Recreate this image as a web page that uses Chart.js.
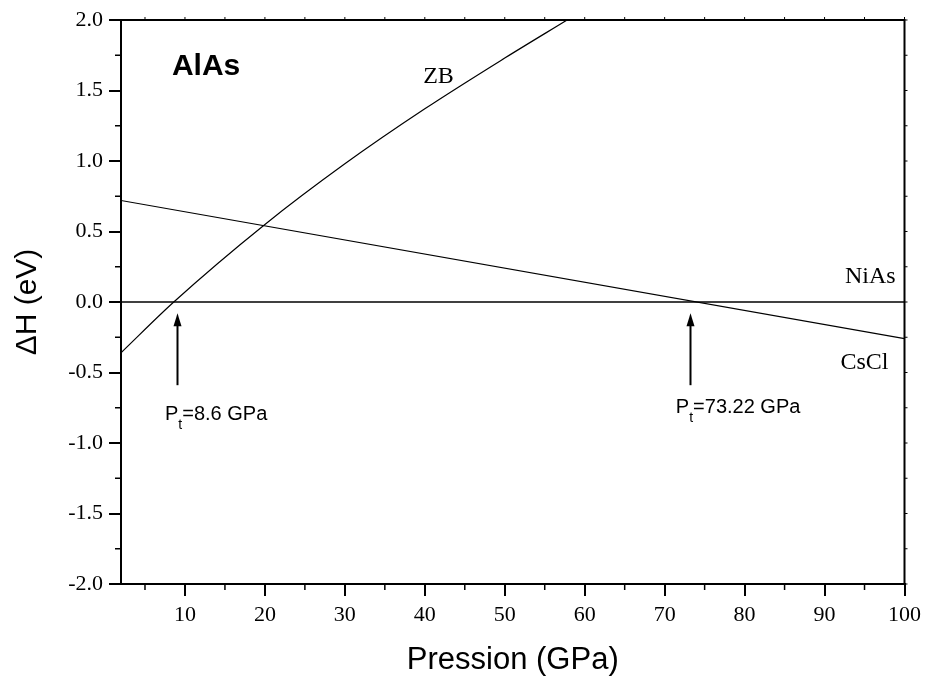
<!DOCTYPE html>
<html>
<head>
<meta charset="utf-8">
<script src="https://cdn.jsdelivr.net/npm/chart.js@4"></script>
<style>
  body { margin: 0; background: #fff; }
</style>
</head>
<body>
<canvas id="enthalpyChart" width="927" height="682"></canvas>
<script>
// data
const pressureZB = [2, 8.6, 20, 30, 40, 50, 57.8];
const deltaZB = [-0.36, 0, 0.55, 0.98, 1.37, 1.73, 2.0];
const pressureCsCl = [2, 100];
const deltaCsCl = [0.72, -0.26];
const pressureNiAs = [2, 100];
const deltaNiAs = [0, 0];

const xTicks = [10, 20, 30, 40, 50, 60, 70, 80, 90, 100];
const yTicks = [-2.0, -1.5, -1.0, -0.5, 0.0, 0.5, 1.0, 1.5, 2.0];
const xMinor = [5, 15, 25, 35, 45, 55, 65, 75, 85, 95];
const yMinor = [-1.75, -1.25, -0.75, -0.25, 0.25, 0.75, 1.25, 1.75];

const arrowX = [9.0, 73.2];
const arrowFrom = -0.59;
const arrowTo = -0.08;

function toPoints(xs, ys) {
    return xs.map((x, i) => ({ x: x, y: ys[i] }));
}

const decorations = {
    id: "decorations",
    afterDraw(chart) {
        const ctx = chart.ctx;
        const xs = chart.scales.x;
        const ys = chart.scales.y;
        const area = chart.chartArea;
        ctx.save();
        ctx.strokeStyle = "#000";
        ctx.fillStyle = "#000";

        // top and right frame
        ctx.lineWidth = 2;
        ctx.beginPath();
        ctx.moveTo(area.left, area.top);
        ctx.lineTo(area.right, area.top);
        ctx.lineTo(area.right, area.bottom);
        ctx.stroke();

        // minor ticks (outward)
        ctx.lineWidth = 1.5;
        ctx.beginPath();
        xMinor.forEach(v => {
            const px = xs.getPixelForValue(v);
            ctx.moveTo(px, area.bottom);
            ctx.lineTo(px, area.bottom + 6);
        });
        yMinor.forEach(v => {
            const py = ys.getPixelForValue(v);
            ctx.moveTo(area.left, py);
            ctx.lineTo(area.left - 6, py);
        });
        ctx.stroke();

        // small ticks on top and right edges
        ctx.lineWidth = 1;
        ctx.beginPath();
        xMinor.concat(xTicks).forEach(v => {
            const px = xs.getPixelForValue(v);
            ctx.moveTo(px, area.top);
            ctx.lineTo(px, area.top - 3);
        });
        yMinor.concat(yTicks).forEach(v => {
            const py = ys.getPixelForValue(v);
            ctx.moveTo(area.right, py);
            ctx.lineTo(area.right + 3, py);
        });
        ctx.stroke();

        // arrows
        arrowX.forEach(v => {
            const px = Math.round(xs.getPixelForValue(v)) + 0.5;
            const y0 = ys.getPixelForValue(arrowFrom);
            const y1 = ys.getPixelForValue(arrowTo);
            ctx.lineWidth = 2;
            ctx.beginPath();
            ctx.moveTo(px, y0);
            ctx.lineTo(px, y1 + 8);
            ctx.stroke();
            ctx.beginPath();
            ctx.moveTo(px, y1);
            ctx.lineTo(px - 4, y1 + 13);
            ctx.lineTo(px + 4, y1 + 13);
            ctx.closePath();
            ctx.fill();
        });

        // labels
        ctx.textBaseline = "middle";
        ctx.textAlign = "left";
        ctx.font = "bold 30px 'Liberation Sans', Arial, sans-serif";
        ctx.fillText("AlAs", xs.getPixelForValue(8.37), ys.getPixelForValue(1.67));

        ctx.font = "24px 'Liberation Serif', 'Times New Roman', serif";
        ctx.fillText("ZB", xs.getPixelForValue(39.8), ys.getPixelForValue(1.6));
        ctx.textAlign = "right";
        ctx.fillText("NiAs", xs.getPixelForValue(98.9), ys.getPixelForValue(0.18));
        ctx.fillText("CsCl", xs.getPixelForValue(98.0), ys.getPixelForValue(-0.43));

        ctx.textAlign = "left";
        function ptLabel(text, xv, yv) {
            let px = xs.getPixelForValue(xv);
            const py = ys.getPixelForValue(yv);
            ctx.font = "20px 'Liberation Sans', Arial, sans-serif";
            ctx.fillText("P", px, py);
            px += ctx.measureText("P").width;
            ctx.font = "14px 'Liberation Sans', Arial, sans-serif";
            ctx.fillText("t", px, py + 10);
            px += ctx.measureText("t").width;
            ctx.font = "20px 'Liberation Sans', Arial, sans-serif";
            ctx.fillText(text, px, py);
        }
        ptLabel("=8.6 GPa", 7.5, -0.80);
        ptLabel("=73.22 GPa", 71.4, -0.75);

        ctx.restore();
    }
};

const ctx = document.getElementById("enthalpyChart").getContext("2d");
new Chart(ctx, {
    type: "line",
    data: {
        datasets: [
            { label: "ZB", data: toPoints(pressureZB, deltaZB), borderColor: "#000", borderWidth: 1.2,
              pointRadius: 0, fill: false, cubicInterpolationMode: "monotone" },
            { label: "CsCl", data: toPoints(pressureCsCl, deltaCsCl), borderColor: "#000", borderWidth: 1.2,
              pointRadius: 0, fill: false },
            { label: "NiAs", data: toPoints(pressureNiAs, deltaNiAs), borderColor: "#000", borderWidth: 1.5,
              pointRadius: 0, fill: false }
        ]
    },
    options: {
        responsive: false,
        animation: false,
        layout: { padding: { top: 20, right: 21, left: 0, bottom: 0 } },
        plugins: { legend: { display: false }, tooltip: { enabled: false } },
        scales: {
            x: {
                type: "linear",
                min: 2,
                max: 100,
                afterBuildTicks: scale => { scale.ticks = xTicks.map(v => ({ value: v })); },
                afterFit: scale => { scale.height = 98; },
                grid: { drawOnChartArea: false, drawTicks: true, tickLength: 12, color: "#000", lineWidth: 2 },
                border: { display: true, color: "#000", width: 2 },
                ticks: { color: "#000", padding: 6, maxRotation: 0,
                         font: { family: "'Liberation Serif', 'Times New Roman', serif", size: 22 } },
                title: { display: true, text: "Pression (GPa)", color: "#000",
                         font: { family: "'Liberation Sans', Arial, sans-serif", size: 31 },
                         padding: { top: 0, bottom: 3 } }
            },
            y: {
                type: "linear",
                min: -2,
                max: 2,
                afterBuildTicks: scale => { scale.ticks = yTicks.map(v => ({ value: v })); },
                afterFit: scale => { scale.width = 121; },
                grid: { drawOnChartArea: false, drawTicks: true, tickLength: 12, color: "#000", lineWidth: 2 },
                border: { display: true, color: "#000", width: 2 },
                ticks: { color: "#000", padding: 6, callback: v => v.toFixed(1),
                         font: { family: "'Liberation Serif', 'Times New Roman', serif", size: 22 } },
                title: { display: true, text: "ΔH (eV)", color: "#000",
                         font: { family: "'Liberation Sans', Arial, sans-serif", size: 30 },
                         padding: { top: 10, bottom: 0 } }
            }
        }
    },
    plugins: [decorations]
});
</script>
</body>
</html>
